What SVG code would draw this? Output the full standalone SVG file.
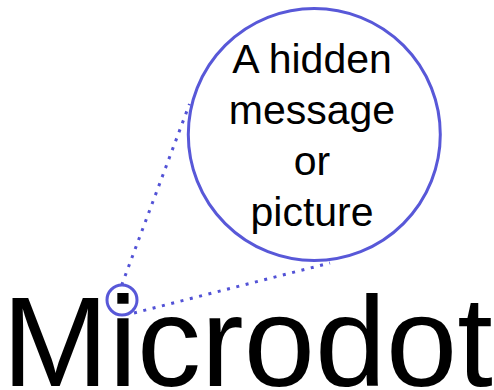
<svg xmlns="http://www.w3.org/2000/svg" width="494" height="390" viewBox="0 0 494 390">
  <style>
    .ring { fill: none; stroke: #5858d8; stroke-width: 3; }
    .dots { stroke: #5252d6; stroke-width: 3; stroke-dasharray: 3 6.6; fill: none; }
    .big { font-family: "Liberation Sans", Arial, sans-serif; font-size: 128px; fill: #000; }
    .msg { font-family: "Liberation Sans", Arial, sans-serif; font-size: 41px; fill: #000; text-anchor: middle; }
  </style>
  <rect width="494" height="390" fill="#fff"/>
  <g id="word">
    <text class="big" x="2" y="386">Microdot</text>
  </g>
  <g id="connectors">
    <line class="dots" x1="121.7" y1="285" x2="189.5" y2="104"/>
    <line class="dots" x1="134" y1="313" x2="330" y2="263"/>
  </g>
  <g id="dot-circle">
    <circle class="ring" cx="122" cy="300" r="15"/>
  </g>
  <g id="message-circle">
    <circle class="ring" cx="314.3" cy="134.5" r="126"/>
    <text class="msg" x="312" y="73.3">A hidden</text>
    <text class="msg" x="312" y="124">message</text>
    <text class="msg" x="312" y="175">or</text>
    <text class="msg" x="312" y="225.5">picture</text>
  </g>
</svg>
